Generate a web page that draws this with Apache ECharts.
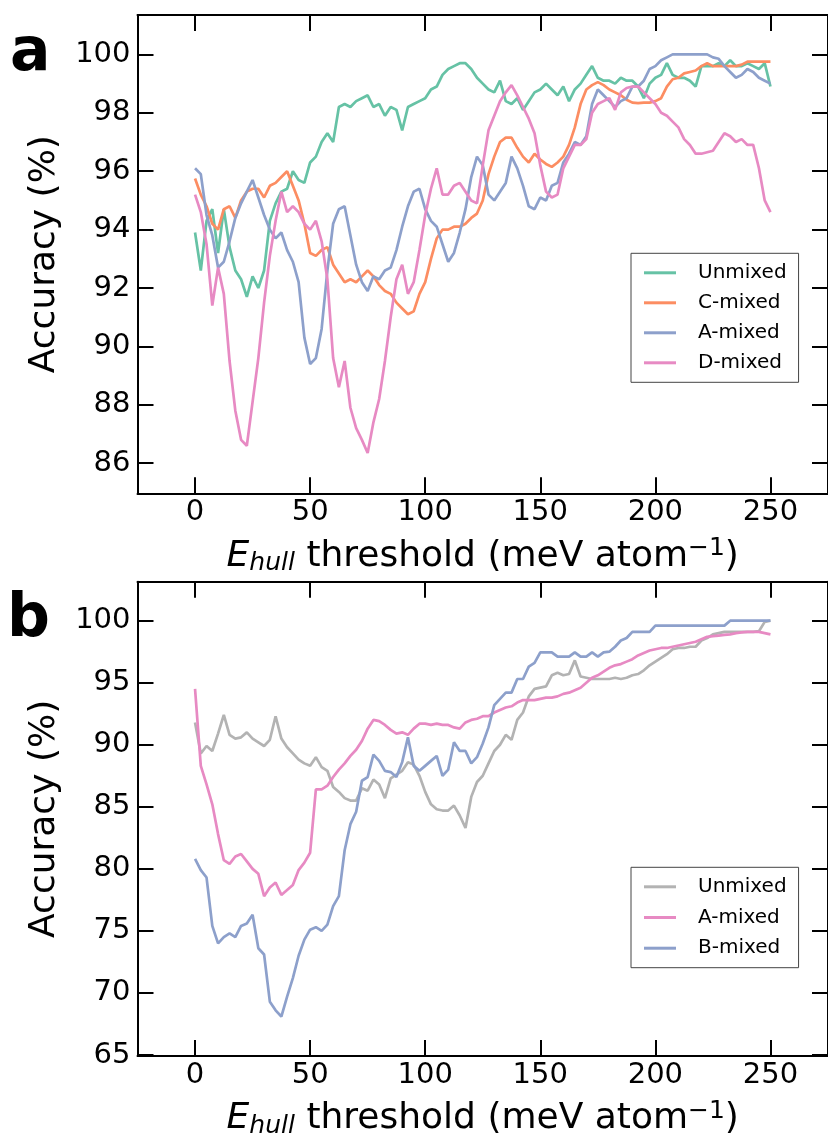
<!DOCTYPE html>
<html>
<head>
<meta charset="utf-8">
<script src="https://cdn.jsdelivr.net/npm/echarts@6/dist/echarts.min.js"></script>
<style>
html,body{margin:0;padding:0;background:#fff;overflow:hidden;}
#chart{width:828px;height:1140px;}
</style>
</head>
<body>
<div id="chart"></div>
<script>
// ---------- data ----------
const thresholds = [0,2.5,5,7.5,10,12.5,15,17.5,20,22.5,25,27.5,30,32.5,35,37.5,40,42.5,45,47.5,
50,52.5,55,57.5,60,62.5,65,67.5,70,72.5,75,77.5,80,82.5,85,87.5,90,92.5,95,97.5,
100,102.5,105,107.5,110,112.5,115,117.5,120,122.5,125,127.5,130,132.5,135,137.5,140,142.5,145,147.5,
150,152.5,155,157.5,160,162.5,165,167.5,170,172.5,175,177.5,180,182.5,185,187.5,190,192.5,195,197.5,
200,202.5,205,207.5,210,212.5,215,217.5,220,222.5,225,227.5,230,232.5,235,237.5,240,242.5,245,247.5,250];

// panel a
const aUnmixed = [93.9,92.6,94.3,94.7,93.2,94.7,93.4,92.6,92.3,91.7,
92.4,92.0,92.6,94.3,94.9,95.3,95.4,96.0,95.7,95.6,
96.3,96.5,97.0,97.3,97.0,98.2,98.3,98.2,98.4,98.5,
98.6,98.2,98.3,97.9,98.2,98.1,97.4,98.2,98.3,98.4,
98.5,98.8,98.9,99.3,99.5,99.6,99.7,99.7,99.5,99.2,
99.0,98.8,98.7,99.1,98.4,98.3,98.5,98.1,98.4,98.7,
98.8,99.0,98.8,98.6,98.9,98.4,98.8,99.0,99.3,99.6,
99.2,99.1,99.1,99.0,99.2,99.1,99.1,98.9,98.5,99.0,
99.2,99.3,99.7,99.3,99.2,99.2,99.1,98.9,99.6,99.6,
99.6,99.7,99.6,99.8,99.6,99.6,99.7,99.6,99.5,99.7,
98.9];
const aCmixed = [95.75,95.2,94.8,94.2,94.0,94.7,94.8,94.4,95.0,95.3,
95.4,95.4,95.1,95.5,95.6,95.8,96.0,95.5,95.0,94.2,
93.2,93.1,93.3,93.4,92.8,92.5,92.2,92.3,92.2,92.4,
92.6,92.4,92.1,91.9,91.8,91.5,91.3,91.1,91.2,91.8,
92.2,93.0,93.7,94.0,94.0,94.1,94.1,94.2,94.4,94.55,
95.0,95.9,96.5,97.0,97.15,97.15,96.8,96.5,96.3,96.6,
96.4,96.25,96.15,96.3,96.5,96.9,97.5,98.3,98.8,98.95,
99.05,98.95,98.8,98.7,98.6,98.45,98.35,98.33,98.35,98.35,
98.4,98.5,98.9,99.15,99.2,99.35,99.4,99.45,99.6,99.7,
99.6,99.6,99.6,99.6,99.6,99.65,99.75,99.75,99.75,99.75,
99.75];
const aAmixed = [96.1,95.9,94.5,93.8,92.7,92.9,93.6,94.4,94.9,95.3,
95.7,95.1,94.5,94.0,93.7,93.9,93.3,92.9,92.2,90.3,
89.4,89.6,90.6,92.6,94.2,94.7,94.8,93.8,92.8,92.2,
91.9,92.4,92.3,92.6,92.7,93.3,94.1,94.8,95.3,95.4,
94.7,94.3,94.1,93.5,92.9,93.2,93.9,94.7,95.8,96.5,
96.2,95.2,95.0,95.3,95.6,96.5,96.1,95.5,94.8,94.7,
95.1,95.0,95.5,95.6,96.3,96.6,97.0,96.9,97.2,98.3,
98.8,98.6,98.4,98.2,98.4,98.5,98.9,98.9,99.1,99.5,
99.6,99.8,99.9,100.0,100.0,100.0,100.0,100.0,100.0,100.0,
99.9,99.85,99.6,99.4,99.2,99.3,99.5,99.4,99.2,99.1,
99.0];
const aDmixed = [95.2,94.6,93.5,91.4,92.7,91.8,89.5,87.8,86.8,86.6,
88.1,89.6,91.5,93.1,94.3,95.3,94.6,94.8,94.6,94.2,
94.0,94.3,93.6,92.3,89.6,88.6,89.5,87.9,87.2,86.8,
86.35,87.4,88.2,89.5,91.0,92.3,92.8,91.8,92.2,93.3,
94.5,95.4,96.1,95.2,95.2,95.5,95.6,95.3,95.0,94.9,
96.2,97.4,97.9,98.4,98.7,98.95,98.6,98.2,97.8,97.3,
96.2,95.3,95.1,95.2,96.1,96.5,96.9,96.9,97.1,98.0,
98.3,98.4,98.5,98.1,98.7,98.85,98.9,98.9,98.7,98.5,
98.3,98.0,97.9,97.7,97.5,97.1,96.9,96.6,96.6,96.65,
96.7,97.0,97.3,97.2,97.0,97.1,96.9,96.9,96.1,95.0,
94.6];

// panel b
const bUnmixed = [91.8,89.3,89.9,89.5,90.9,92.4,90.8,90.5,90.6,91.0,
90.5,90.2,89.9,90.4,92.3,90.5,89.8,89.3,88.8,88.5,
88.3,89.0,88.2,87.9,86.6,86.2,85.7,85.5,85.5,86.5,
86.3,87.2,86.8,85.7,87.3,87.6,87.9,88.6,88.4,87.5,
86.2,85.2,84.8,84.7,84.7,85.1,84.3,83.3,85.8,87.0,
87.5,88.5,89.5,90.0,90.8,90.4,92.0,92.6,93.9,94.5,
94.6,94.7,95.6,95.8,95.6,95.7,96.8,95.5,95.4,95.3,
95.3,95.3,95.3,95.4,95.3,95.4,95.6,95.7,96.0,96.4,
96.7,97.0,97.3,97.7,97.8,97.8,97.9,97.9,98.4,98.6,
98.9,99.0,99.1,99.1,99.1,99.1,99.1,99.1,99.15,99.9,
100.0];
const bAmixed = [94.5,88.3,86.8,85.2,82.8,80.7,80.4,81.0,81.2,80.6,
80.0,79.6,77.8,78.5,78.9,77.9,78.3,78.7,79.9,80.5,
81.3,86.4,86.4,86.7,87.4,88.0,88.5,89.1,89.6,90.3,
91.3,92.0,91.9,91.6,91.2,90.9,91.0,90.8,91.3,91.7,
91.7,91.6,91.7,91.6,91.6,91.4,91.3,91.8,92.0,92.1,
92.3,92.3,92.6,92.8,93.0,93.1,93.4,93.6,93.6,93.6,
93.7,93.8,93.8,93.9,94.1,94.2,94.4,94.6,95.0,95.4,
95.6,95.9,96.2,96.4,96.5,96.7,96.9,97.2,97.4,97.6,
97.7,97.8,97.8,97.9,98.0,98.1,98.2,98.3,98.5,98.7,
98.75,98.8,98.85,98.9,99.0,99.05,99.1,99.1,99.1,99.0,
98.9];
const bBmixed = [80.8,79.9,79.3,75.4,74.0,74.5,74.8,74.5,75.4,75.6,
76.3,73.6,73.1,69.3,68.6,68.1,69.7,71.2,73.0,74.3,
75.1,75.3,75.0,75.5,77.0,77.8,81.5,83.6,84.6,87.1,
87.4,89.2,88.7,87.9,87.8,87.4,88.6,90.6,88.3,87.9,
88.3,88.7,89.1,87.5,88.0,90.2,89.5,89.5,88.5,89.0,
90.1,91.4,93.2,93.7,94.2,94.2,95.3,95.3,96.3,96.6,
97.45,97.45,97.45,97.1,97.1,97.1,97.45,97.1,97.1,97.45,
97.1,97.45,97.5,97.9,98.4,98.6,99.1,99.1,99.1,99.1,
99.6,99.6,99.6,99.6,99.6,99.6,99.6,99.6,99.6,99.6,
99.6,99.6,99.6,100,100,100,100,100,100,100,
100];

const xTicks = [0,50,100,150,200,250];
const aYTicks = [86,88,90,92,94,96,98,100];
const bYTicks = [65,70,75,80,85,90,95,100];

const seriesA = [
  {name:'Unmixed', values:aUnmixed, color:'#66c2a5'},
  {name:'C-mixed', values:aCmixed, color:'#fc8d62'},
  {name:'A-mixed', values:aAmixed, color:'#8da0cb'},
  {name:'D-mixed', values:aDmixed, color:'#e78ac3'}
];
const seriesB = [
  {name:'Unmixed', values:bUnmixed, color:'#b3b3b3'},
  {name:'A-mixed', values:bAmixed, color:'#e78ac3'},
  {name:'B-mixed', values:bBmixed, color:'#8da0cb'}
];

// ---------- chart ----------
const FONT = '"DejaVu Sans", sans-serif';
const chart = echarts.init(document.getElementById('chart'), null, {renderer:'canvas'});

const tickStyle = {show:true, inside:true, length:16, lineStyle:{color:'#000', width:2}};
const lineStyle = {show:true, onZero:false, lineStyle:{color:'#000', width:2}};

function xAxes(grid, gap){
  const common = {gridIndex:grid, type:'value', min:-25, max:275, splitLine:{show:false}, axisLine:lineStyle};
  return [
    Object.assign({}, common, {
      position:'bottom',
      axisTick:Object.assign({}, tickStyle, {customValues:xTicks}),
      axisLabel:{show:true, customValues:xTicks, margin:5, color:'#000', fontSize:29, fontFamily:FONT},
      name:'{e|E}{sub|hull}{t| threshold (meV atom}{sup|−1}{t|)}',
      nameLocation:'middle', nameGap:gap,
      nameTextStyle:{color:'#000', fontFamily:FONT, fontSize:36,
        rich:{
          e:{fontStyle:'italic', fontSize:36, fontFamily:FONT, color:'#000', lineHeight:40},
          t:{fontSize:36, fontFamily:FONT, color:'#000', lineHeight:40},
          sub:{fontStyle:'italic', fontSize:25, fontFamily:FONT, color:'#000', lineHeight:18, verticalAlign:'bottom'},
          sup:{fontSize:25, fontFamily:FONT, color:'#000', lineHeight:18, verticalAlign:'top'}
        }}
    }),
    Object.assign({}, common, {
      position:'top',
      axisTick:Object.assign({}, tickStyle, {customValues:xTicks}),
      axisLabel:{show:false}
    })
  ];
}
function yAxes(grid, min, max, ticks){
  const common = {gridIndex:grid, type:'value', min:min, max:max, splitLine:{show:false}, axisLine:lineStyle};
  return [
    Object.assign({}, common, {
      position:'left',
      axisTick:Object.assign({}, tickStyle, {customValues:ticks}),
      axisLabel:{show:true, customValues:ticks, margin:7, color:'#000', fontSize:29, fontFamily:FONT},
      name:'Accuracy (%)', nameLocation:'middle', nameGap:67,
      nameTextStyle:{color:'#000', fontFamily:FONT, fontSize:36, lineHeight:40}
    }),
    Object.assign({}, common, {
      position:'right',
      axisTick:Object.assign({}, tickStyle, {customValues:ticks}),
      axisLabel:{show:false}
    })
  ];
}

const series = [];
seriesA.forEach(s => series.push({
  name:s.name, type:'line', xAxisIndex:0, yAxisIndex:0, symbol:'none', animation:false,
  data: thresholds.map((x,i) => [x, s.values[i]]),
  lineStyle:{color:s.color, width:2.7}, itemStyle:{color:s.color}
}));
seriesB.forEach(s => series.push({
  name:s.name + ' ', type:'line', xAxisIndex:2, yAxisIndex:2, symbol:'none', animation:false,
  data: thresholds.map((x,i) => [x, s.values[i]]),
  lineStyle:{color:s.color, width:2.7}, itemStyle:{color:s.color}
}));

const legendCommon = {
  orient:'vertical', left:631, icon:'rect', itemWidth:32, itemHeight:3,
  backgroundColor:'#fff', borderColor:'#444', borderWidth:1, borderRadius:0,
  padding:[9.5,12,9.5,13], itemGap:10, selectedMode:false,
  itemStyle:{borderWidth:0},
  textStyle:{color:'#000', fontSize:20, fontFamily:FONT, padding:[0,0,0,17]},
  formatter: n => n.trim()
};

const option = {
  animation:false,
  backgroundColor:'#fff',
  grid:[
    {left:137.5, top:15, width:696, height:478.3},
    {left:137.5, top:581.7, width:696, height:478.3}
  ],
  xAxis:[].concat(xAxes(0,43), xAxes(1,43)),
  yAxis:[].concat(yAxes(0,84.97,101.35,aYTicks), yAxes(1,64.92,103.14,bYTicks)),
  legend:[
    Object.assign({}, legendCommon, {top:253.3, data:seriesA.map(s=>s.name)}),
    Object.assign({}, legendCommon, {top:867.3, itemGap:10.7, data:seriesB.map(s=>s.name+' ')})
  ],
  graphic:[
    {type:'text', x:10, y:54, style:{text:'a', font:'bold 60px "DejaVu Sans"', fill:'#000', verticalAlign:'middle'}},
    {type:'text', x:7, y:620, style:{text:'b', font:'bold 60px "DejaVu Sans"', fill:'#000', verticalAlign:'middle'}}
  ],
  series:series
};
chart.setOption(option);
</script>
</body>
</html>
